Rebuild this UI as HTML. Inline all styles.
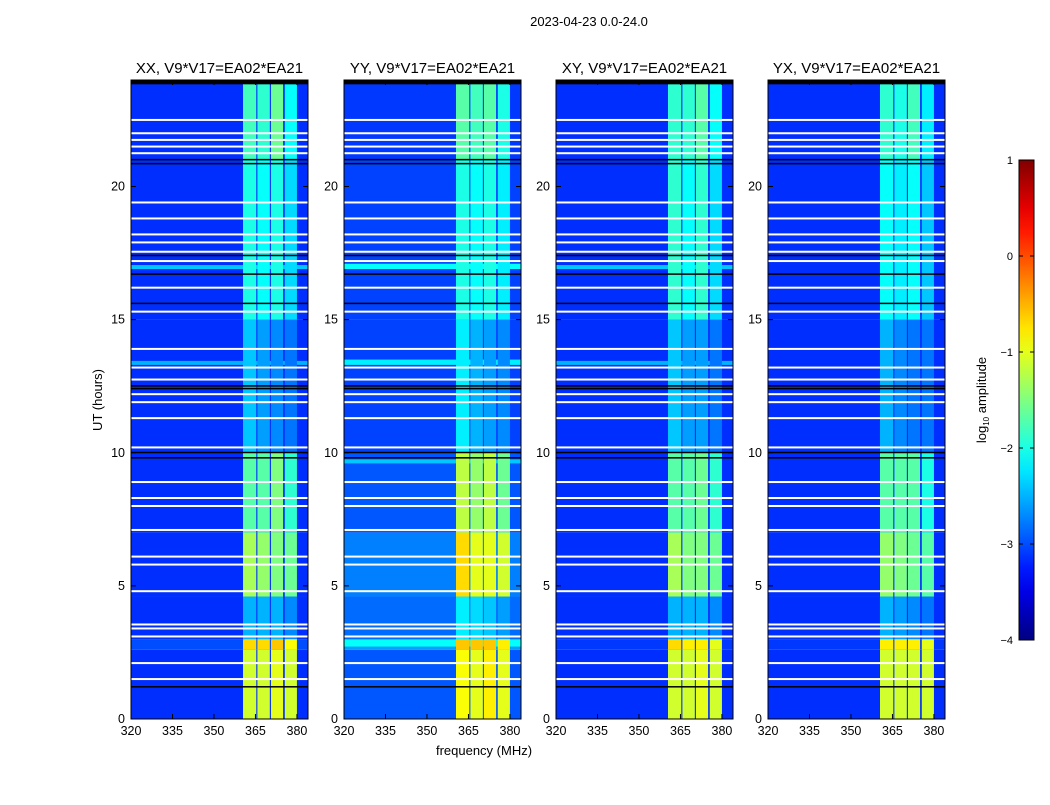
<!DOCTYPE html>
<html><head><meta charset="utf-8"><style>
body{margin:0;background:#fff;font-family:"Liberation Sans",sans-serif;}
svg text{font-family:"Liberation Sans","DejaVu Sans",sans-serif;}
</style></head><body>
<svg id="fig" width="1050" height="800" xmlns="http://www.w3.org/2000/svg">
<rect width="1050" height="800" fill="#fff"/>
<text x="589" y="26" font-size="13" text-anchor="middle">2023-04-23 0.0-24.0</text>
<g id="panels"></g>
<g id="cbar"></g>
<text x="484" y="755" font-size="13" text-anchor="middle">frequency (MHz)</text>
<text transform="translate(102,400) rotate(-90)" font-size="13" text-anchor="middle">UT (hours)</text>
<text transform="translate(986,400) rotate(-90)" font-size="13" text-anchor="middle">log<tspan font-size="8" dy="3">10</tspan><tspan dy="-3"> amplitude</tspan></text>
</svg>
<script>
const titles=["XX, V9*V17=EA02*EA21","YY, V9*V17=EA02*EA21","XY, V9*V17=EA02*EA21","YX, V9*V17=EA02*EA21"];
const xTicks=[320,335,350,365,380];
const yTicks=[0,5,10,15,20];
const cbTicks=[1,0,-1,-2,-3,-4];
const segBreaks=[0,2.6,3.0,4.6,7.0,10,15,21,24];
const rfiBands=[[360.5,365.3],[365.7,370.2],[370.6,375.0],[375.6,380.0]];
const bgXX=[-3.15,-3.0,-3.15,-3.15,-3.15,-3.15,-3.15,-3.15];
const bgYY=[-2.95,-2.6,-2.85,-2.75,-2.95,-3.05,-3.05,-3.1];
const bgXY=[-3.15,-3.1,-3.15,-3.15,-3.15,-3.15,-3.15,-3.15];
const bgYX=[-3.15,-3.1,-3.15,-3.15,-3.15,-3.15,-3.15,-3.15];
const rfiXX=[[-1.1,-1.1,-1.0,-1.1],[-0.7,-0.7,-0.6,-0.9],[-2.5,-2.5,-2.5,-2.7],[-1.3,-1.4,-1.5,-1.6],[-1.7,-1.7,-1.5,-1.9],[-2.4,-2.6,-2.7,-2.8],[-2.0,-2.1,-2.0,-2.3],[-1.8,-1.9,-1.6,-2.1]];
const rfiYY=[[-0.9,-1.0,-0.8,-1.0],[-0.6,-0.6,-0.6,-0.8],[-2.2,-2.3,-2.4,-2.6],[-0.7,-1.0,-1.0,-1.1],[-1.2,-1.4,-1.2,-1.6],[-2.2,-2.5,-2.6,-2.7],[-2.0,-2.1,-2.0,-2.2],[-1.7,-1.8,-1.7,-2.0]];
const rfiXY=[[-1.1,-1.1,-1.0,-1.1],[-0.7,-0.8,-0.8,-1.0],[-2.5,-2.5,-2.5,-2.7],[-1.3,-1.5,-1.5,-1.6],[-1.7,-1.7,-1.6,-1.9],[-2.4,-2.6,-2.6,-2.8],[-1.9,-2.1,-1.9,-2.3],[-1.9,-1.9,-1.7,-2.1]];
const rfiYX=[[-1.1,-1.1,-1.1,-1.1],[-0.8,-0.8,-0.8,-1.0],[-2.5,-2.6,-2.7,-2.8],[-1.4,-1.5,-1.6,-1.7],[-1.7,-1.7,-1.7,-2.0],[-2.5,-2.7,-2.8,-2.8],[-2.1,-2.2,-2.1,-2.4],[-1.9,-2.0,-1.8,-2.2]];
const rowsYY=[[2.72,2.98,-2.1],[13.3,13.5,-2.2],[16.9,17.1,-2.1],[9.6,9.75,-2.4]];
const rowsXX=[[13.3,13.45,-2.5],[16.9,17.05,-2.4]];
const whiteFlags=[22.5,22.0,21.75,21.5,21.25,19.4,18.8,18.2,17.9,17.55,17.2,16.2,15.3,13.9,13.2,12.75,12.2,11.9,11.3,10.2,8.9,8.3,8.0,7.1,6.1,5.8,4.8,3.55,3.4,3.1,2.1,1.5];
const blackFlags=[23.95,21.0,20.85,17.4,16.7,15.6,12.5,12.4,10.0,9.8,1.2];
const bgs=[bgXX,bgYY,bgXY,bgYX], rfis=[rfiXX,rfiYY,rfiXY,rfiYX], extraRows=[rowsXX,rowsYY,rowsXX,[]];

const NS="http://www.w3.org/2000/svg";
const panelLeft=[131,344,556,768], PW=177, PT=80, PH=639;
function jet(v){const t=Math.max(0,Math.min(1,(v+4)/5));const c=x=>Math.round(255*Math.max(0,Math.min(1,1.5-Math.abs(4*t-x))));return `rgb(${c(3)},${c(2)},${c(1)})`;}
function mk(p,tag,a){const e=document.createElementNS(NS,tag);for(const k in a)e.setAttribute(k,a[k]);p.appendChild(e);return e;}
const fmin=320,fmax=384;
const root=document.getElementById('panels');
for(let p=0;p<4;p++){
  const L=panelLeft[p];
  const xs=f=>L+(f-fmin)/(fmax-fmin)*PW;
  const ys=h=>PT+(24-h)/24*PH;
  const g=mk(root,'g',{});
  
  
  for(let s=0;s<segBreaks.length-1;s++){
    const y0=ys(segBreaks[s+1]),y1=ys(segBreaks[s]);
    const r=mk(g,'rect',{x:L,y:y0,width:PW,height:y1-y0,fill:jet(bgs[p][s])});
    
    
  }
  for(const rw of extraRows[p]){
    const r=mk(g,'rect',{x:L,y:ys(rw[1]),width:PW,height:ys(rw[0])-ys(rw[1]),fill:jet(rw[2])});
    
    
  }
  for(let s=0;s<segBreaks.length-1;s++){
    const y0=ys(segBreaks[s+1]),y1=ys(segBreaks[s]);
    rfiBands.forEach((b,bi)=>{
      const r=mk(g,'rect',{x:xs(b[0]),y:y0,width:xs(b[1])-xs(b[0]),height:y1-y0,fill:jet(rfis[p][s][bi])});
      
      
    });
  }
  for(const h of whiteFlags){
    const r=mk(g,'rect',{x:L,y:ys(h)-1,width:PW,height:2,fill:'#fff'});
    
    
  }
  for(const h of blackFlags){
    const r=mk(g,'rect',{x:L,y:ys(h)-1,width:PW,height:h>23.9?4:1.5,fill:'#000'});
    
    
  }
  const fr=mk(g,'rect',{x:L,y:PT,width:PW,height:PH,fill:'none',stroke:'#000','stroke-width':1});
  
  
  const t=mk(g,'text',{x:L+PW/2,y:73,'font-size':15,'text-anchor':'middle'});t.textContent=titles[p];
  
  
  for(const v of xTicks){
    const x=xs(v);
    mk(g,'line',{x1:x,x2:x,y1:PT+PH,y2:PT+PH-5,stroke:'#000'});
    mk(g,'line',{x1:x,x2:x,y1:PT,y2:PT+5,stroke:'#000'});
    const tt=mk(g,'text',{x:x,y:PT+PH+16,'font-size':12.5,'text-anchor':'middle'});tt.textContent=v;
    
    
  }
  for(const v of yTicks){
    const y=ys(v);
    mk(g,'line',{x1:L,x2:L+5,y1:y,y2:y,stroke:'#000'});
    mk(g,'line',{x1:L+PW,x2:L+PW-5,y1:y,y2:y,stroke:'#000'});
    const tt=mk(g,'text',{x:L-6,y:y+4,'font-size':12.5,'text-anchor':'end'});tt.textContent=v;
    
    
  }
}
const cb=document.getElementById('cbar');
const CX=1019,CW=15,CT=160,CH=480;
const defs=mk(cb,'defs',{});
const lg=mk(defs,'linearGradient',{id:'jetg',x1:0,y1:1,x2:0,y2:0});
for(let i=0;i<=20;i++){mk(lg,'stop',{offset:i/20,'stop-color':jet(-4+5*i/20)});}
mk(cb,'rect',{x:CX,y:CT,width:CW,height:CH,fill:'url(#jetg)',stroke:'#000','stroke-width':1});
for(const v of cbTicks){
  const y=CT+(1-v)/5*CH;
  mk(cb,'line',{x1:CX,x2:CX+4,y1:y,y2:y,stroke:'#000'});
  mk(cb,'line',{x1:CX+CW,x2:CX+CW-4,y1:y,y2:y,stroke:'#000'});
  const tt=mk(cb,'text',{x:CX-6,y:y+4,'font-size':11,'text-anchor':'end'});tt.textContent=v<0?'\u2212'+(-v):v;
  
  
}
</script>
</body></html>
